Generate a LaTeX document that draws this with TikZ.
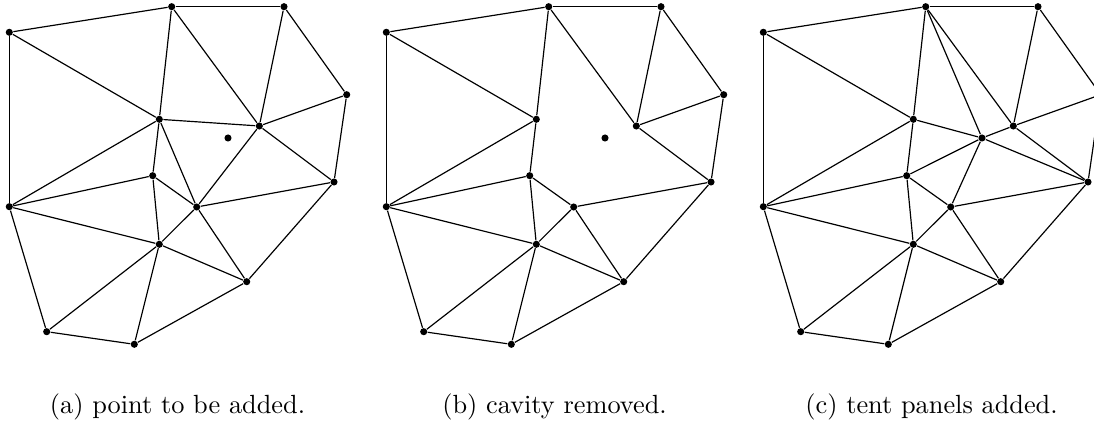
\documentclass[tikz,border=0pt]{standalone}

\tikzset{
  vertex/.style={circle,fill=black,inner sep=0pt,minimum size=2.7pt},
  meshline/.style={line width=0.45pt},
  caption/.style={anchor=base,inner sep=0pt},
}

% the mesh points (same for every panel)
\newcommand{\meshpoints}{%
  \foreach \n/\a/\b in {1/9.3/32.3, 2/171.7/6.7, 3/284/6.7, 4/346.7/94.7,
      5/159.3/119.3, 6/259.3/126, 7/152.7/175.7, 8/334/182,
      9/9.3/206.7, 10/196.7/207, 11/159.3/244.3, 12/246.7/281.7,
      13/46.7/331.7, 14/134.3/344.3}
    \node[vertex] (v\n) at (\a,\b) {};
}

% edges that are kept in every panel
\newcommand{\meshedges}{%
  % hull
  \foreach \i/\j in {1/2, 2/3, 3/4, 4/8, 8/12, 12/14, 14/13, 13/9, 9/1}
    \draw[meshline] (v\i) -- (v\j);
  % interior
  \foreach \i/\j in {1/5, 2/5, 2/6, 3/6, 4/6, 6/8, 5/9, 5/7, 7/9, 7/10,
      7/11, 9/11, 10/11, 10/8, 10/12, 11/12, 11/13, 11/14}
    \draw[meshline] (v\i) -- (v\j);
}

\begin{document}
\begin{tikzpicture}[x=0.38pt,y=-0.38pt]
  \useasboundingbox (0,0) rectangle (1094,421);

  % (a) point to be added
  \begin{scope}
    \meshpoints
    \meshedges
    \foreach \i/\j in {5/6, 6/10, 5/10}
      \draw[meshline] (v\i) -- (v\j);
    \node[vertex] (new) at (228,138) {};
    \node[caption] (capa) at (177.5,414) {(a) point to be added.};
  \end{scope}

  % (b) cavity removed
  \begin{scope}[shift={(377,0)}]
    \meshpoints
    \meshedges
    \node[vertex] (new) at (228,138) {};
    \node[caption] (capb) at (177.5,414) {(b) cavity removed.};
  \end{scope}

  % (c) tent panels added
  \begin{scope}[shift={(754,0)}]
    \meshpoints
    \meshedges
    \node[vertex] (new) at (228,138) {};
    \foreach \j in {2, 6, 8, 10, 7, 5}
      \draw[meshline] (new) -- (v\j);
    \node[caption] (capc) at (177.5,414) {(c) tent panels added.};
  \end{scope}

\end{tikzpicture}
\end{document}
